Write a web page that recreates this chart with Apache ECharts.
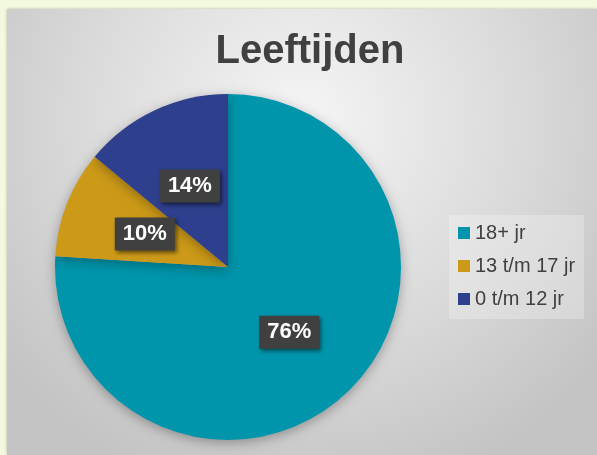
<!DOCTYPE html>
<html>
<head>
<meta charset="utf-8">
<script src="https://cdn.jsdelivr.net/npm/echarts@6/dist/echarts.min.js"></script>
<style>
  html, body { margin: 0; padding: 0; background: #f3f9df; }
  #chart { width: 597px; height: 455px; }
</style>
</head>
<body>
<div id="chart"></div>
<script>
const categories = ['18+ jr', '13 t/m 17 jr', '0 t/m 12 jr']
const shares = [76, 10, 14]
const sliceColors = ['#0095ab', '#cc9a18', '#2d3f8d']

const chart = echarts.init(document.getElementById('chart'))

const option = {
  backgroundColor: '#f3f9df',
  animation: false,
  graphic: [
    {
      type: 'rect',
      z: -10,
      silent: true,
      shape: { x: 7, y: 9, width: 590, height: 446 },
      style: {
        fill: {
          type: 'radial', x: 0.5, y: 0.25, r: 0.85,
          colorStops: [
            { offset: 0, color: '#f5f5f5' },
            { offset: 0.6, color: '#d9d9d9' },
            { offset: 1, color: '#c4c4c4' },
          ],
        },
        shadowBlur: 3,
        shadowColor: 'rgba(0,0,0,0.25)',
      },
    },
  ],
  title: {
    text: 'Leeftijden',
    left: 305,
    top: 27,
    textAlign: 'center',
    textStyle: {
      fontFamily: 'Liberation Sans, Arial, sans-serif',
      fontSize: 40,
      fontWeight: 'bold',
      color: '#404040',
    },
  },
  legend: {
    orient: 'vertical',
    left: 449,
    top: 215,
    padding: [8, 9, 10, 9],
    backgroundColor: 'rgba(255,255,255,0.25)',
    itemWidth: 12,
    itemHeight: 12,
    itemGap: 13,
    icon: 'rect',
    data: categories,
    textStyle: {
      fontFamily: 'Liberation Sans, Arial, sans-serif',
      fontSize: 20,
      lineHeight: 20,
      color: '#404040',
    },
  },
  series: [
    {
      type: 'pie',
      center: [228, 267],
      radius: 173,
      startAngle: 90,
      clockwise: true,
      silent: true,
      itemStyle: {
        shadowBlur: 12,
        shadowColor: 'rgba(0,0,0,0.3)',
        shadowOffsetY: 3,
      },
      label: {
        position: 'inside',
        formatter: '{c}%',
        fontFamily: 'Liberation Sans, Arial, sans-serif',
        fontSize: 22,
        fontWeight: 'bold',
        color: '#ffffff',
        backgroundColor: '#404040',
        padding: [6, 8, 5, 8],
        shadowBlur: 4,
        shadowColor: 'rgba(0,0,0,0.5)',
        shadowOffsetX: 2,
        shadowOffsetY: 2,
      },
      labelLine: { show: false },
      data: categories.map((name, i) => ({
        name,
        value: shares[i],
        itemStyle: { color: sliceColors[i] },
      })),
    },
  ],
}

chart.setOption(option)
</script>
</body>
</html>
